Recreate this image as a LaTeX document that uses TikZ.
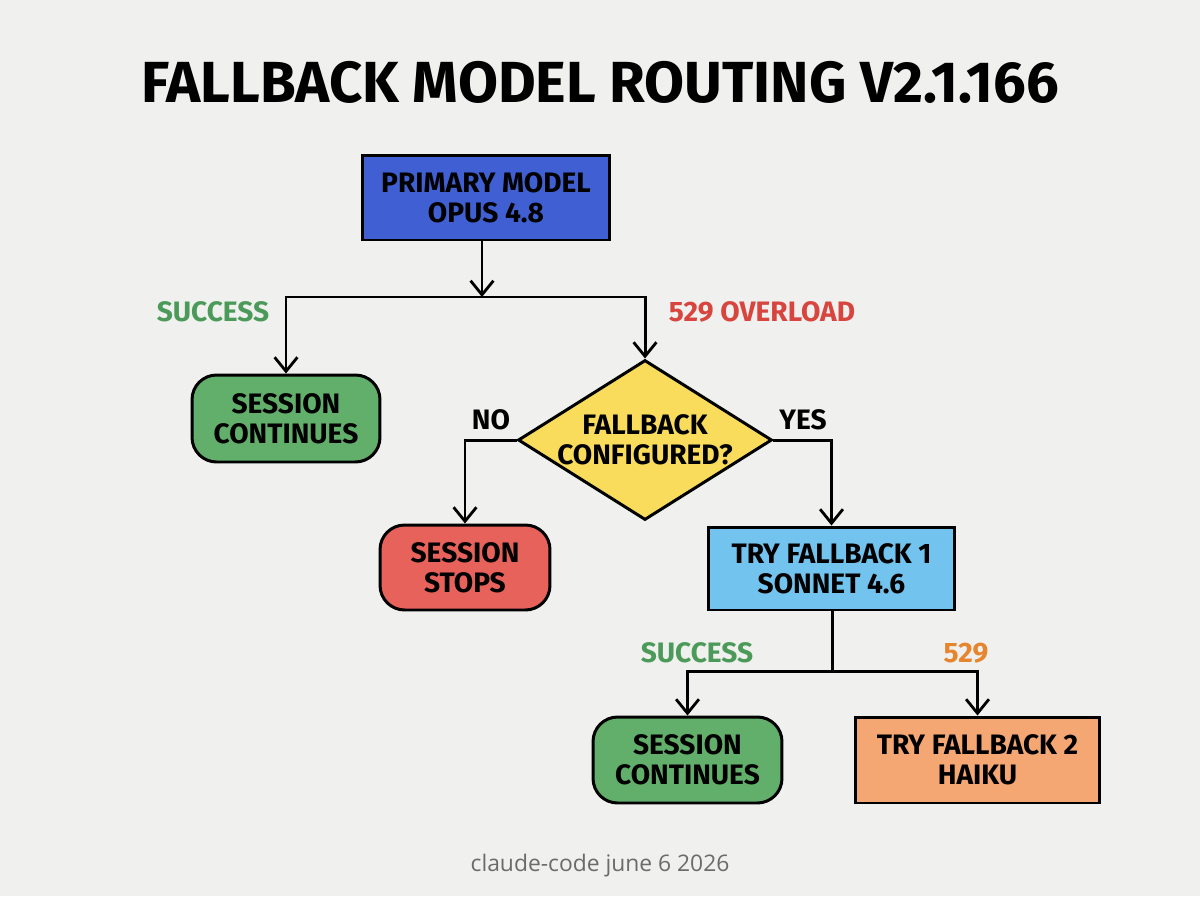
\documentclass[tikz,border=0pt]{standalone}
\usepackage{fontspec}
\setmainfont{Fira Sans}
\newfontfamily\footfont{Open Sans}
\usetikzlibrary{arrows.meta,shapes.geometric}
\definecolor{bgcol}{HTML}{F0F0EE}
\definecolor{primblue}{HTML}{3F5FD3}
\definecolor{okgreen}{HTML}{62AE6B}
\definecolor{stopred}{HTML}{E8625C}
\definecolor{fbblue}{HTML}{72C3EE}
\definecolor{fborange}{HTML}{F4A673}
\definecolor{askyellow}{HTML}{F9DC5C}
\definecolor{lblgreen}{HTML}{4C9A5A}
\definecolor{lblred}{HTML}{D8453F}
\definecolor{lblorange}{HTML}{E5862E}
\tikzset{
  box/.style={draw=black,line width=1.7pt,align=center,inner sep=0pt,
    font=\fontsize{16}{17}\selectfont\bfseries},
  roundbox/.style={box,rounded corners=14pt},
  flow/.style={line width=1.7pt,-{Straight Barb[length=8pt,width=13pt,line width=1.6pt]}},
  link/.style={line width=1.7pt},
  lbl/.style={font=\fontsize{16}{17}\selectfont\bfseries}
}
\begin{document}
\begin{tikzpicture}[x=0.02cm,y=-0.02cm]
\fill[bgcol] (0,0) rectangle (1200,896);
\useasboundingbox (0,0) rectangle (1200,896);
% --- title ---
\node[font=\fontsize{33}{38}\selectfont\bfseries] (title) at (600,82) {FALLBACK MODEL ROUTING V2.1.166};
% --- boxes ---
\node[box,fill=primblue,minimum width=4.96cm,minimum height=1.7cm] (prim) at (486,197.5) {PRIMARY MODEL\\OPUS 4.8};
\node[roundbox,fill=okgreen,minimum width=3.76cm,minimum height=1.74cm] (cont1) at (286,418.5) {SESSION\\CONTINUES};
\node[box,shape=diamond,fill=askyellow,minimum width=5.08cm,minimum height=3.2cm] (dia) at (645,440) {};
\node[box,draw=none] (diatext) at (dia.center) {FALLBACK\\CONFIGURED?};
\node[roundbox,fill=stopred,minimum width=3.4cm,minimum height=1.7cm] (stops) at (465,567.5) {SESSION\\STOPS};
\node[box,fill=fbblue,minimum width=4.94cm,minimum height=1.66cm] (fb1) at (831.5,568.5) {TRY FALLBACK 1\\SONNET 4.6};
\node[roundbox,fill=okgreen,minimum width=3.78cm,minimum height=1.72cm] (cont2) at (687.5,760) {SESSION\\CONTINUES};
\node[box,fill=fborange,minimum width=4.9cm,minimum height=1.72cm] (fb2) at (977.5,760) {TRY FALLBACK 2\\HAIKU};
% --- junctions ---
\coordinate (j1) at (482,297);
\coordinate (j2) at (832,671);
% --- connectors ---
\draw[flow] (prim.south -| j1) -- (j1);
\draw[flow] (j1) -| (cont1);
\draw[flow] (j1) -| (dia);
\draw[flow] (dia.west) -| (stops);
\draw[flow] (dia.east) -| (fb1);
\draw[link] (fb1.south -| j2) -- (j2);
\draw[flow] (j2) -| (cont2);
\draw[flow] (j2) -| (fb2);
% --- branch labels ---
\node[lbl,text=lblgreen] (ok1) at (213,312) {SUCCESS};
\node[lbl,text=lblred] (ovl) at (762,312) {529 OVERLOAD};
\node[lbl] (no) at (491,420) {NO};
\node[lbl] (yes) at (803,420) {YES};
\node[lbl,text=lblgreen] (ok2) at (697,653) {SUCCESS};
\node[lbl,text=lblorange] (e529) at (966,653) {529};
% --- footer ---
\node[font=\footfont\fontsize{13}{15}\selectfont,text=black!58] (foot) at (600,866) {claude-code june 6 2026};
\end{tikzpicture}
\end{document}
